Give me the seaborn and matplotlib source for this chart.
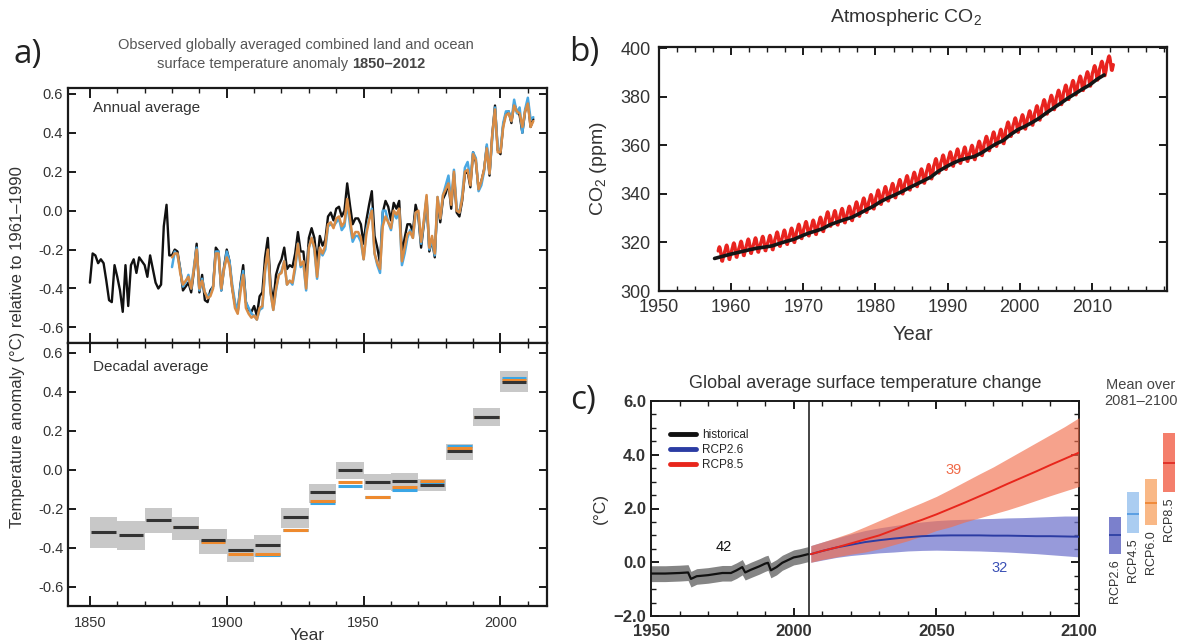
import numpy as np
import pandas as pd
import matplotlib
matplotlib.use("Agg")
import matplotlib.pyplot as plt
import seaborn as sns
from matplotlib.lines import Line2D
from matplotlib.ticker import MultipleLocator, FixedLocator

# ---------------- data: panel a (annual) ----------------
hadcrut_years = list(range(1850, 2013))
hadcrut = [
    -0.37, -0.22, -0.23, -0.27, -0.25, -0.27, -0.36, -0.46, -0.47, -0.28,
    -0.34, -0.41, -0.52, -0.28, -0.49, -0.28, -0.25, -0.32, -0.24, -0.26,
    -0.28, -0.34, -0.23, -0.30, -0.37, -0.40, -0.38, -0.08, 0.03, -0.23,
    -0.23, -0.20, -0.21, -0.30, -0.41, -0.39, -0.37, -0.42, -0.31, -0.17,
    -0.42, -0.33, -0.46, -0.47, -0.41, -0.39, -0.19, -0.21, -0.41, -0.29,
    -0.20, -0.26, -0.40, -0.48, -0.52, -0.38, -0.28, -0.47, -0.51, -0.52,
    -0.49, -0.54, -0.44, -0.42, -0.24, -0.14, -0.38, -0.47, -0.33, -0.28,
    -0.25, -0.19, -0.30, -0.28, -0.29, -0.22, -0.11, -0.21, -0.21, -0.35,
    -0.14, -0.09, -0.14, -0.27, -0.13, -0.18, -0.15, -0.03, -0.01, -0.05,
    0.01, 0.02, -0.03, 0.00, 0.14, 0.03, -0.07, -0.04, -0.04, -0.07,
    -0.17, -0.05, 0.03, 0.10, -0.13, -0.19, -0.27, -0.01, 0.05, 0.02,
    -0.05, 0.04, 0.01, 0.05, -0.22, -0.14, -0.07, -0.07, -0.11, 0.03,
    -0.03, -0.19, -0.07, 0.06, -0.21, -0.15, -0.24, 0.05, -0.06, 0.06,
    0.09, 0.14, 0.01, 0.19, -0.01, -0.03, 0.05, 0.19, 0.20, 0.12,
    0.30, 0.25, 0.11, 0.15, 0.21, 0.33, 0.18, 0.39, 0.54, 0.31,
    0.29, 0.44, 0.50, 0.51, 0.45, 0.55, 0.51, 0.49, 0.40, 0.51,
    0.56, 0.43, 0.47]

other_years = list(range(1880, 2013))
noaa = [
    -0.24, -0.22, -0.22, -0.32, -0.38, -0.36, -0.34, -0.40, -0.30, -0.20,
    -0.40, -0.36, -0.42, -0.45, -0.44, -0.40, -0.22, -0.22, -0.40, -0.30,
    -0.24, -0.28, -0.40, -0.50, -0.53, -0.42, -0.33, -0.50, -0.53, -0.55,
    -0.54, -0.56, -0.50, -0.49, -0.30, -0.20, -0.42, -0.51, -0.40, -0.33,
    -0.32, -0.26, -0.38, -0.36, -0.37, -0.28, -0.17, -0.28, -0.26, -0.40,
    -0.19, -0.14, -0.19, -0.34, -0.19, -0.22, -0.18, -0.07, -0.06, -0.09,
    -0.04, -0.03, -0.08, -0.06, 0.06, -0.04, -0.14, -0.11, -0.11, -0.14,
    -0.25, -0.12, -0.05, 0.00, -0.22, -0.27, -0.30, -0.08, -0.03, -0.06,
    -0.09, 0.00, -0.02, 0.01, -0.26, -0.19, -0.12, -0.11, -0.14, -0.01,
    0.00, -0.16, -0.05, 0.08, -0.19, -0.13, -0.22, 0.07, -0.04, 0.08,
    0.11, 0.14, 0.03, 0.20, 0.00, -0.01, 0.06, 0.20, 0.21, 0.13,
    0.29, 0.26, 0.11, 0.15, 0.21, 0.32, 0.19, 0.39, 0.52, 0.30,
    0.30, 0.43, 0.49, 0.50, 0.46, 0.54, 0.51, 0.50, 0.43, 0.51,
    0.55, 0.43, 0.46]
giss = [
    -0.29, -0.21, -0.23, -0.30, -0.39, -0.37, -0.33, -0.40, -0.29, -0.19,
    -0.41, -0.35, -0.42, -0.44, -0.43, -0.39, -0.21, -0.21, -0.41, -0.30,
    -0.21, -0.26, -0.38, -0.47, -0.52, -0.39, -0.31, -0.47, -0.50, -0.53,
    -0.54, -0.56, -0.51, -0.50, -0.31, -0.21, -0.42, -0.51, -0.41, -0.33,
    -0.31, -0.26, -0.38, -0.36, -0.38, -0.30, -0.17, -0.29, -0.27, -0.41,
    -0.19, -0.14, -0.20, -0.35, -0.20, -0.23, -0.20, -0.08, -0.07, -0.08,
    -0.06, -0.04, -0.10, -0.08, 0.04, -0.07, -0.16, -0.13, -0.13, -0.16,
    -0.25, -0.10, -0.04, 0.01, -0.22, -0.28, -0.32, 0.00, 0.00, -0.06,
    -0.10, -0.01, -0.04, 0.00, -0.28, -0.22, -0.14, -0.10, -0.14, -0.01,
    -0.01, -0.17, -0.06, 0.07, -0.20, -0.15, -0.23, 0.07, -0.04, 0.08,
    0.13, 0.18, 0.04, 0.21, 0.01, -0.01, 0.08, 0.22, 0.25, 0.16,
    0.30, 0.27, 0.10, 0.13, 0.20, 0.34, 0.19, 0.37, 0.53, 0.32,
    0.31, 0.45, 0.51, 0.51, 0.46, 0.57, 0.50, 0.53, 0.40, 0.52,
    0.58, 0.47, 0.48]

# ---------------- data: panel a (decadal) ----------------
decade_start = [1850, 1860, 1870, 1880, 1890, 1900, 1910, 1920, 1930, 1940,
                1950, 1960, 1970, 1980, 1990, 2000]
dec_black = [-0.320, -0.337, -0.259, -0.295, -0.362, -0.412, -0.389, -0.242,
             -0.116, -0.003, -0.062, -0.056, -0.077, 0.094, 0.269, 0.451]
dec_low = [-0.404, -0.412, -0.325, -0.360, -0.431, -0.473, -0.451, -0.300,
           -0.170, -0.047, -0.106, -0.109, -0.111, 0.050, 0.222, 0.400]
dec_high = [-0.244, -0.266, -0.199, -0.241, -0.303, -0.357, -0.337, -0.195,
            -0.074, 0.037, -0.022, -0.017, -0.047, 0.130, 0.315, 0.505]
dec_orange = [np.nan, np.nan, np.nan, -0.295, -0.372, -0.434, -0.431, -0.311,
              -0.163, -0.066, -0.138, -0.088, -0.060, 0.111, 0.270, 0.458]
dec_blue = [np.nan, np.nan, np.nan, -0.295, -0.365, -0.414, -0.439, -0.311,
            -0.173, -0.086, -0.138, -0.106, -0.066, 0.123, 0.270, 0.471]
a_yticks = [-0.6, -0.4, -0.2, 0.0, 0.2, 0.4, 0.6]
a_yticklabels = ["-0.6", "-0.4", "-0.2", "0.0", "0.2", "0.4", "0.6"]

# ---------------- data: panel b (CO2) ----------------
mlo_years = list(range(1958, 2013))
mlo_annual = [315.3, 316.0, 316.9, 317.6, 318.5, 319.0, 319.6, 320.0, 321.4, 322.2,
              323.0, 324.6, 325.7, 326.3, 327.5, 329.7, 330.2, 331.1, 332.0, 333.8,
              335.4, 336.8, 338.7, 340.1, 341.4, 343.0, 344.6, 346.0, 347.4, 349.2,
              351.6, 353.1, 354.4, 355.6, 356.4, 357.1, 358.8, 360.8, 362.6, 363.7,
              366.7, 368.4, 369.7, 371.3, 373.4, 375.9, 377.7, 379.8, 381.9, 383.8,
              385.6, 387.4, 389.9, 391.7, 393.9]
mlo_seasonal = [-0.4, 0.4, 1.2, 2.4, 2.9, 2.4, 1.0, -1.1, -2.9, -3.0, -1.9, -0.7]
sp_years = list(np.arange(1957.7, 2012.0, 1.0))
sp_annual = [313.4, 314.2, 315.0, 315.7, 316.4, 317.1, 317.7, 318.1, 318.6, 319.6,
             320.5, 321.3, 322.6, 323.8, 324.7, 325.7, 327.3, 328.4, 329.4, 330.3,
             331.8, 333.4, 334.9, 336.8, 338.3, 339.6, 341.0, 342.6, 344.0, 345.5,
             347.0, 349.3, 351.0, 352.6, 353.9, 354.7, 355.4, 356.9, 358.8, 360.6,
             362.0, 364.4, 366.4, 367.8, 369.4, 371.2, 373.4, 375.4, 377.4, 379.5,
             381.3, 383.2, 384.9, 387.2, 389.0]
b_xticks = [1950, 1960, 1970, 1980, 1990, 2000, 2010]

# ---------------- data: panel c (projections) ----------------
hist_years = [1950, 1955, 1960, 1963, 1964, 1966, 1970, 1975, 1978, 1980, 1982,
              1983, 1985, 1988, 1990, 1991, 1992, 1994, 1996, 1998, 2000, 2002, 2005]
hist_mean = [-0.42, -0.42, -0.40, -0.38, -0.62, -0.52, -0.48, -0.40, -0.40, -0.30,
             -0.18, -0.38, -0.28, -0.15, -0.05, -0.02, -0.30, -0.18, -0.02, 0.08,
             0.18, 0.22, 0.30]
hist_low = [-0.72, -0.72, -0.70, -0.68, -0.92, -0.82, -0.78, -0.70, -0.70, -0.60,
            -0.47, -0.66, -0.57, -0.44, -0.34, -0.30, -0.58, -0.47, -0.30, -0.20,
            -0.10, -0.06, 0.02]
hist_high = [-0.13, -0.13, -0.11, -0.09, -0.34, -0.24, -0.20, -0.12, -0.12, -0.02,
             0.10, -0.10, 0.00, 0.13, 0.23, 0.26, -0.02, 0.10, 0.26, 0.36,
             0.46, 0.50, 0.58]
proj_years = [2006, 2010, 2015, 2020, 2025, 2030, 2035, 2040, 2045, 2050,
              2055, 2060, 2065, 2070, 2075, 2080, 2085, 2090, 2095, 2100]
rcp26_mean = [0.30, 0.42, 0.55, 0.65, 0.75, 0.82, 0.88, 0.93, 0.97, 0.99,
              1.00, 1.00, 1.00, 0.99, 0.99, 0.98, 0.97, 0.97, 0.96, 0.95]
rcp26_low = [0.00, 0.08, 0.18, 0.25, 0.30, 0.35, 0.38, 0.42, 0.44, 0.45,
             0.44, 0.43, 0.42, 0.40, 0.38, 0.35, 0.32, 0.28, 0.24, 0.20]
rcp26_high = [0.62, 0.75, 0.90, 1.05, 1.18, 1.28, 1.36, 1.44, 1.50, 1.55,
              1.58, 1.60, 1.62, 1.63, 1.65, 1.66, 1.68, 1.70, 1.72, 1.72]
rcp85_mean = [0.30, 0.42, 0.55, 0.70, 0.85, 1.00, 1.20, 1.40, 1.58, 1.78,
              2.00, 2.22, 2.45, 2.68, 2.92, 3.15, 3.38, 3.62, 3.85, 4.08]
rcp85_low = [0.00, 0.10, 0.20, 0.30, 0.38, 0.50, 0.65, 0.80, 0.98, 1.18,
             1.32, 1.50, 1.65, 1.80, 1.95, 2.12, 2.30, 2.48, 2.65, 2.82]
rcp85_high = [0.62, 0.75, 0.92, 1.10, 1.32, 1.55, 1.78, 2.00, 2.22, 2.45,
              2.72, 3.00, 3.28, 3.55, 3.85, 4.15, 4.45, 4.75, 5.05, 5.38]
c_yticks = [-2.0, 0.0, 2.0, 4.0, 6.0]
c_yticklabels = ["\u22122.0", "0.0", "2.0", "4.0", "6.0"]

# mean over 2081-2100
scen_names = ["RCP2.6", "RCP4.5", "RCP6.0", "RCP8.5"]
scen_mean = [1.0, 1.8, 2.2, 3.7]
scen_low = [0.3, 1.1, 1.4, 2.6]
scen_high = [1.7, 2.6, 3.1, 4.8]
scen_fill = ["#7b80cc", "#abcdf1", "#f9b886", "#f47f6c"]
scen_line = ["#3345a6", "#5b9fe3", "#f08a3a", "#e2322a"]

# ---------------- style ----------------
sns.set_theme(style="ticks")
plt.rcParams['font.family'] = ['Liberation Sans', 'DejaVu Sans']
plt.rcParams['mathtext.fontset'] = 'custom'
plt.rcParams['mathtext.rm'] = 'Liberation Sans'
plt.rcParams['mathtext.it'] = 'Liberation Sans:italic'
plt.rcParams['mathtext.bf'] = 'Liberation Sans:bold'
plt.rcParams['mathtext.default'] = 'rm'

W, H = 1183, 644
fig = plt.figure(figsize=(W / 100, H / 100), dpi=100)
fig.patch.set_facecolor("white")


def rect(l, t, r, b):
    return [l / W, 1 - b / H, (r - l) / W, (b - t) / H]


def fx(x):
    return x / W


def fy(y):
    return 1 - y / H


def style(ax, lw=1.6, labelsize=10.5):
    for s in ax.spines.values():
        s.set_visible(True)
        s.set_linewidth(lw)
        s.set_color('#1a1a1a')
    ax.tick_params(which='both', direction='in', top=True, right=True,
                   colors='#1a1a1a', labelcolor='#333333', labelsize=labelsize)
    ax.tick_params(which='major', length=6, width=1.4)
    ax.tick_params(which='minor', length=3.5, width=1.0)
    ax.set_facecolor("white")
    ax.grid(False)


TXT = '#333333'

# ---------------- panel a ----------------
ax_a1 = fig.add_axes(rect(68, 88, 547, 343))
ax_a2 = fig.add_axes(rect(68, 343, 547, 606))

df_h = pd.DataFrame({"year": hadcrut_years, "anom": hadcrut})
df_o = pd.DataFrame({"year": other_years, "noaa": noaa, "giss": giss})
sns.lineplot(data=df_h, x="year", y="anom", ax=ax_a1, color="#111111", lw=1.7, zorder=2)
sns.lineplot(data=df_o, x="year", y="giss", ax=ax_a1, color="#4aa8e2", lw=1.8, zorder=3)
sns.lineplot(data=df_o, x="year", y="noaa", ax=ax_a1, color="#d98c45", lw=1.8, zorder=4)

ax_a2.bar(decade_start, np.array(dec_high) - np.array(dec_low), bottom=dec_low,
          width=10, align='edge', color='#c8c8c8', edgecolor='none', zorder=1)
ds = np.array(decade_start, dtype=float)
for vals, col, z in [(dec_blue, "#3aa6e6", 2), (dec_orange, "#ee8a2e", 3), (dec_black, "#333333", 4)]:
    v = np.array(vals, dtype=float)
    m = ~np.isnan(v)
    ax_a2.hlines(v[m], ds[m] + 0.5, ds[m] + 9.5, colors=col, lw=2.2, zorder=z)

for ax, yl in [(ax_a1, (-0.68, 0.63)), (ax_a2, (-0.70, 0.65))]:
    style(ax, lw=1.6, labelsize=10.5)
    ax.set_xlim(1842, 2017)
    ax.set_ylim(*yl)
    ax.xaxis.set_major_locator(MultipleLocator(50))
    ax.xaxis.set_minor_locator(MultipleLocator(10))
    ax.yaxis.set_major_locator(FixedLocator(a_yticks))
    ax.set_yticklabels(a_yticklabels)
    ax.set_xlabel("")
    ax.set_ylabel("")
ax_a1.tick_params(labelbottom=False)
ax_a2.tick_params(axis='x', labelsize=10.5, pad=7)
ax_a1.tick_params(axis='x', which='major', length=7)
ax_a2.tick_params(axis='x', which='major', length=7)

ax_a1.text(0.053, 0.92, "Annual average", transform=ax_a1.transAxes, fontsize=11,
           color=TXT, va='center', ha='left')
ax_a2.text(0.053, 0.91, "Decadal average", transform=ax_a2.transAxes, fontsize=11,
           color=TXT, va='center', ha='left')

fig.text(fx(296), fy(45), "Observed globally averaged combined land and ocean",
         fontsize=10.5, color='#555555', ha='center', va='center')
fig.text(fx(352), fy(64), "surface temperature anomaly ", fontsize=10.5,
         color='#555555', ha='right', va='center')
fig.text(fx(352), fy(64), "1850\u20132012", fontsize=10.5, color='#444444',
         ha='left', va='center', fontweight='bold')
fig.text(fx(18), fy(347), "Temperature anomaly (\u00b0C) relative to 1961\u20131990",
         rotation=90, fontsize=12, color=TXT, ha='center', va='center')
fig.text(fx(307), fy(636), "Year", fontsize=12.5, color=TXT, ha='center', va='center')
fig.text(fx(28), fy(55), "a)", fontsize=24, color='#222222', ha='center', va='center',
         family=['Open Sans', 'DejaVu Sans'])

# ---------------- panel b ----------------
ax_b = fig.add_axes(rect(659, 47, 1167, 291))
mlo_x, mlo_y = [], []
for i, yr in enumerate(mlo_years):
    for mth in range(12):
        mlo_x.append(yr + (mth + 0.5) / 12)
        mlo_y.append(mlo_annual[i] + mlo_seasonal[mth])
df_mlo = pd.DataFrame({"t": mlo_x[2:], "co2": mlo_y[2:]})
df_sp = pd.DataFrame({"t": sp_years, "co2": sp_annual})
sns.lineplot(data=df_mlo, x="t", y="co2", ax=ax_b, color="#e8231f", lw=2.4, zorder=2)
sns.lineplot(data=df_sp, x="t", y="co2", ax=ax_b, color="#151515", lw=2.6, zorder=3)
style(ax_b, lw=1.6, labelsize=13)
ax_b.set_xlim(1950, 2020.4)
ax_b.set_ylim(300, 400.5)
ax_b.xaxis.set_major_locator(FixedLocator(b_xticks))
ax_b.xaxis.set_minor_locator(MultipleLocator(2.5))
ax_b.yaxis.set_major_locator(MultipleLocator(20))
ax_b.tick_params(axis='both', pad=6)
ax_b.set_xlabel("Year", fontsize=14.5, color=TXT, labelpad=6)
ax_b.set_ylabel("CO$_2$ (ppm)", fontsize=14, color=TXT, labelpad=8)
fig.text(fx(906), fy(18), "Atmospheric CO$_2$", fontsize=14, color=TXT,
         ha='center', va='center')
fig.text(fx(584), fy(52), "b)", fontsize=24, color='#222222', ha='center', va='center',
         family=['Open Sans', 'DejaVu Sans'])

# ---------------- panel c ----------------
ax_c = fig.add_axes(rect(651, 401, 1079, 616))
ax_c.fill_between(hist_years, hist_low, hist_high, color='#858585', lw=0, zorder=1)
ax_c.fill_between(proj_years, rcp26_low, rcp26_high, color='#6f74cc', alpha=0.72, lw=0, zorder=2)
ax_c.fill_between(proj_years, rcp85_low, rcp85_high, color='#f2704e', alpha=0.65, lw=0, zorder=3)
sns.lineplot(x=hist_years, y=hist_mean, ax=ax_c, color="#111111", lw=1.6, zorder=5)
sns.lineplot(x=proj_years, y=rcp26_mean, ax=ax_c, color="#2b3ca3", lw=1.4, zorder=5)
sns.lineplot(x=proj_years, y=rcp85_mean, ax=ax_c, color="#e8261c", lw=1.4, zorder=6)
ax_c.axvline(2005.5, color='#111111', lw=1.1, zorder=7)
style(ax_c, lw=1.4, labelsize=12)
ax_c.set_xlim(1950, 2100)
ax_c.set_ylim(-2.0, 6.0)
ax_c.xaxis.set_major_locator(MultipleLocator(50))
ax_c.xaxis.set_minor_locator(MultipleLocator(10))
ax_c.yaxis.set_major_locator(FixedLocator(c_yticks))
ax_c.yaxis.set_minor_locator(MultipleLocator(0.5))
ax_c.set_yticklabels(c_yticklabels)
for lab in ax_c.get_xticklabels() + ax_c.get_yticklabels():
    lab.set_fontweight('bold')
ax_c.tick_params(axis='x', pad=6)
ax_c.set_xlabel("")
ax_c.set_ylabel("(\u00b0C)", fontsize=12.5, color=TXT, labelpad=4)
ax_c.text(1975.5, 0.55, "42", color='#111111', fontsize=10.5, ha='center', va='center')
ax_c.text(2056, 3.42, "39", color='#f06a48', fontsize=10.5, ha='center', va='center')
ax_c.text(2072, -0.2, "32", color='#3a50b5', fontsize=10.5, ha='center', va='center')
handles = [Line2D([0], [0], color='#111111', lw=3.5),
           Line2D([0], [0], color='#2b3ca3', lw=3.5),
           Line2D([0], [0], color='#e8261c', lw=3.5)]
ax_c.legend(handles, ["historical", "RCP2.6", "RCP8.5"], loc='upper left',
            bbox_to_anchor=(0.02, 0.92), frameon=False, fontsize=8.5,
            handlelength=2.2, handletextpad=0.5, labelspacing=0.25)
fig.text(fx(865), fy(383), "Global average surface temperature change", fontsize=13,
         color=TXT, ha='center', va='center')
fig.text(fx(583), fy(400), "c)", fontsize=24, color='#222222', ha='center', va='center',
         family=['Open Sans', 'DejaVu Sans'])

# ---------------- mean over 2081-2100 ----------------
ax_d = fig.add_axes(rect(1100, 401, 1183, 616))
xpos = np.arange(len(scen_names))
ax_d.bar(xpos, np.array(scen_high) - np.array(scen_low), bottom=scen_low, width=0.67,
         color=scen_fill, edgecolor='none')
ax_d.hlines(scen_mean, xpos - 0.335, xpos + 0.335, colors=scen_line, lw=1.4)
for i, name in enumerate(scen_names):
    ax_d.text(xpos[i], scen_low[i] - 0.2, name, rotation=90, ha='center', va='top',
              fontsize=9, color=TXT)
ax_d.set_xlim(-0.833, 3.778)
ax_d.set_ylim(-2.0, 6.0)
ax_d.axis('off')
fig.text(fx(1141), fy(393), "Mean over\n2081\u20132100", fontsize=10.5, color='#444444',
         ha='center', va='center', linespacing=1.1)

fig.savefig("out.png", dpi=100)
